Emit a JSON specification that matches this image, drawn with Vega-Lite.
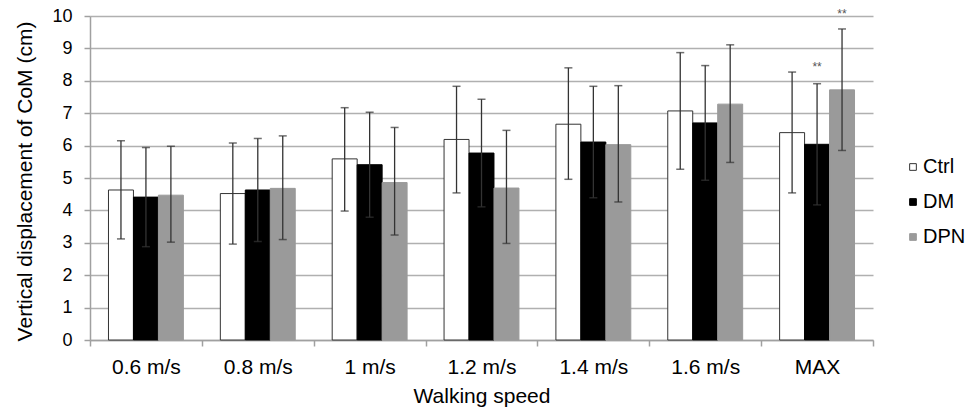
{
  "$schema": "https://vega.github.io/schema/vega-lite/v6.json",
  "width": 783,
  "height": 324,
  "autosize": {"type": "none"},
  "padding": {"left": 90, "top": 16, "right": 94, "bottom": 69},
  "background": "white",
  "config": {
    "view": {"stroke": null},
    "font": "Liberation Sans",
    "axis": {"labelFont": "Liberation Sans", "titleFont": "Liberation Sans", "labelColor": "#000", "titleColor": "#000", "titleFontWeight": "normal"},
    "legend": {"labelFont": "Liberation Sans"}
  },
  "data": {
    "values": [
      {"speed": "0.6 m/s", "group": "Ctrl", "mean": 4.63, "lo": 3.12, "hi": 6.15},
      {"speed": "0.6 m/s", "group": "DM", "mean": 4.41, "lo": 2.88, "hi": 5.94},
      {"speed": "0.6 m/s", "group": "DPN", "mean": 4.47, "lo": 3.02, "hi": 5.98},
      {"speed": "0.8 m/s", "group": "Ctrl", "mean": 4.52, "lo": 2.96, "hi": 6.08},
      {"speed": "0.8 m/s", "group": "DM", "mean": 4.63, "lo": 3.04, "hi": 6.22},
      {"speed": "0.8 m/s", "group": "DPN", "mean": 4.68, "lo": 3.10, "hi": 6.30},
      {"speed": "1 m/s", "group": "Ctrl", "mean": 5.59, "lo": 3.98, "hi": 7.17},
      {"speed": "1 m/s", "group": "DM", "mean": 5.41, "lo": 3.79, "hi": 7.03},
      {"speed": "1 m/s", "group": "DPN", "mean": 4.86, "lo": 3.24, "hi": 6.56},
      {"speed": "1.2 m/s", "group": "Ctrl", "mean": 6.19, "lo": 4.54, "hi": 7.83},
      {"speed": "1.2 m/s", "group": "DM", "mean": 5.77, "lo": 4.11, "hi": 7.43},
      {"speed": "1.2 m/s", "group": "DPN", "mean": 4.69, "lo": 2.98, "hi": 6.47},
      {"speed": "1.4 m/s", "group": "Ctrl", "mean": 6.66, "lo": 4.96, "hi": 8.40},
      {"speed": "1.4 m/s", "group": "DM", "mean": 6.11, "lo": 4.39, "hi": 7.83},
      {"speed": "1.4 m/s", "group": "DPN", "mean": 6.03, "lo": 4.26, "hi": 7.85},
      {"speed": "1.6 m/s", "group": "Ctrl", "mean": 7.07, "lo": 5.27, "hi": 8.87},
      {"speed": "1.6 m/s", "group": "DM", "mean": 6.70, "lo": 4.93, "hi": 8.47},
      {"speed": "1.6 m/s", "group": "DPN", "mean": 7.28, "lo": 5.48, "hi": 9.11},
      {"speed": "MAX", "group": "Ctrl", "mean": 6.40, "lo": 4.54, "hi": 8.27},
      {"speed": "MAX", "group": "DM", "mean": 6.04, "lo": 4.17, "hi": 7.91, "sig": "**", "sigY": 8.3},
      {"speed": "MAX", "group": "DPN", "mean": 7.72, "lo": 5.85, "hi": 9.60, "sig": "**", "sigY": 9.93}
    ]
  },
  "encoding": {
    "x": {
      "field": "speed", "type": "nominal", "sort": null,
      "scale": {"paddingInner": 0, "paddingOuter": 0},
      "axis": {
        "title": "Walking speed", "labelAngle": 0, "labelFontSize": 21, "titleFontSize": 21,
        "tickBand": "extent", "tickSize": 6, "tickColor": "#a0a0a0", "domainColor": "#a0a0a0", "domainWidth": 1.5, "tickWidth": 1.5,
        "labelPadding": 10, "titleY": 62, "titleBaseline": "alphabetic", "grid": false
      }
    },
    "xOffset": {"field": "group", "type": "nominal", "scale": {"paddingInner": 0, "paddingOuter": 0.74}}
  },
  "layer": [
    {
      "mark": {"type": "bar", "strokeWidth": 1},
      "encoding": {
        "y": {
          "field": "mean", "type": "quantitative",
          "scale": {"domain": [0, 10], "nice": false},
          "axis": {
            "title": "Vertical displacement of CoM (cm)", "values": [0, 1, 2, 3, 4, 5, 6, 7, 8, 9, 10],
            "labelOverlap": false, "labelFontSize": 18, "titleFontSize": 21, "grid": true, "gridColor": "#b0b0b0", "gridWidth": 1.5,
            "tickSize": 6, "tickColor": "#a0a0a0", "tickWidth": 1.5, "domainColor": "#a0a0a0", "domainWidth": 1.5,
            "labelPadding": 12, "titleX": -59, "titleY": 165, "titleBaseline": "alphabetic"
          }
        },
        "fill": {
          "field": "group", "type": "nominal",
          "scale": {"domain": ["Ctrl", "DM", "DPN"], "range": ["#ffffff", "#000000", "#9a9a9a"]},
          "legend": {
            "title": null, "orient": "none", "legendX": 813, "legendY": 141, "padding": 0,
            "symbolType": "square", "symbolSize": 45, "symbolStrokeWidth": 1,
            "labelFontSize": 20, "labelOffset": 0, "rowPadding": 15, "labelColor": "#000"
          }
        },
        "stroke": {
          "field": "group", "type": "nominal",
          "scale": {"domain": ["Ctrl", "DM", "DPN"], "range": ["#333333", "#000000", "#9a9a9a"]},
          "legend": {
            "title": null, "orient": "none", "legendX": 813, "legendY": 141, "padding": 0,
            "symbolType": "square", "symbolSize": 45, "symbolStrokeWidth": 1,
            "labelFontSize": 20, "labelOffset": 0, "rowPadding": 15, "labelColor": "#000"
          }
        }
      }
    },
    {
      "mark": {"type": "rule", "color": "#333333", "strokeWidth": 1.3},
      "encoding": {
        "y": {
          "field": "lo", "type": "quantitative",
          "axis": {
            "title": "Vertical displacement of CoM (cm)", "values": [0, 1, 2, 3, 4, 5, 6, 7, 8, 9, 10],
            "labelOverlap": false, "labelFontSize": 18, "titleFontSize": 21, "grid": true, "gridColor": "#b0b0b0", "gridWidth": 1.5,
            "tickSize": 6, "tickColor": "#a0a0a0", "tickWidth": 1.5, "domainColor": "#a0a0a0", "domainWidth": 1.5,
            "labelPadding": 12, "titleX": -59, "titleY": 165, "titleBaseline": "alphabetic"
          }
        },
        "y2": {"field": "hi"}
      }
    },
    {
      "mark": {"type": "tick", "color": "#333333", "size": 8, "thickness": 1.5, "orient": "horizontal"},
      "encoding": {
        "y": {
          "field": "hi", "type": "quantitative",
          "axis": {
            "title": "Vertical displacement of CoM (cm)", "values": [0, 1, 2, 3, 4, 5, 6, 7, 8, 9, 10],
            "labelOverlap": false, "labelFontSize": 18, "titleFontSize": 21, "grid": true, "gridColor": "#b0b0b0", "gridWidth": 1.5,
            "tickSize": 6, "tickColor": "#a0a0a0", "tickWidth": 1.5, "domainColor": "#a0a0a0", "domainWidth": 1.5,
            "labelPadding": 12, "titleX": -59, "titleY": 165, "titleBaseline": "alphabetic"
          }
        }
      }
    },
    {
      "mark": {"type": "tick", "color": "#333333", "size": 8, "thickness": 1.5, "orient": "horizontal"},
      "encoding": {
        "y": {
          "field": "lo", "type": "quantitative",
          "axis": {
            "title": "Vertical displacement of CoM (cm)", "values": [0, 1, 2, 3, 4, 5, 6, 7, 8, 9, 10],
            "labelOverlap": false, "labelFontSize": 18, "titleFontSize": 21, "grid": true, "gridColor": "#b0b0b0", "gridWidth": 1.5,
            "tickSize": 6, "tickColor": "#a0a0a0", "tickWidth": 1.5, "domainColor": "#a0a0a0", "domainWidth": 1.5,
            "labelPadding": 12, "titleX": -59, "titleY": 165, "titleBaseline": "alphabetic"
          }
        }
      }
    },
    {
      "transform": [{"filter": "datum.sig != null"}],
      "mark": {"type": "text", "fontSize": 12, "color": "#555555", "baseline": "alphabetic", "clip": false},
      "encoding": {
        "y": {
          "field": "sigY", "type": "quantitative",
          "axis": {
            "title": "Vertical displacement of CoM (cm)", "values": [0, 1, 2, 3, 4, 5, 6, 7, 8, 9, 10],
            "labelOverlap": false, "labelFontSize": 18, "titleFontSize": 21, "grid": true, "gridColor": "#b0b0b0", "gridWidth": 1.5,
            "tickSize": 6, "tickColor": "#a0a0a0", "tickWidth": 1.5, "domainColor": "#a0a0a0", "domainWidth": 1.5,
            "labelPadding": 12, "titleX": -59, "titleY": 165, "titleBaseline": "alphabetic"
          }
        },
        "text": {"field": "sig"}
      }
    }
  ]
}
